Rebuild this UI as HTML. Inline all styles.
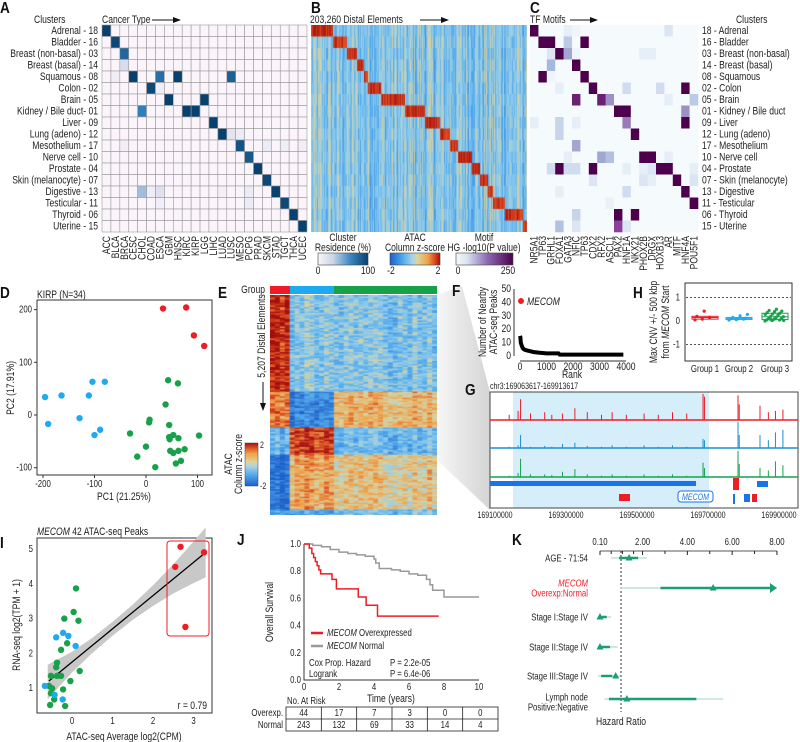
<!DOCTYPE html>
<html><head><meta charset="utf-8">
<style>
body{margin:0;background:#fff;}
#wrap{position:relative;width:800px;height:742px;overflow:hidden;font-family:"Liberation Sans",sans-serif;}
canvas{position:absolute;}
svg{position:absolute;left:0;top:0;}
text{font-family:"Liberation Sans",sans-serif;fill:#222;}
.pl{font-weight:bold;font-size:16px;fill:#111;}
.s9{font-size:10px;}
.s10{font-size:11px;}
.s8{font-size:9px;}
</style></head>
<body>
<div id="wrap">
<canvas id="cB" width="216" height="207" style="left:311px;top:25px"></canvas>
<canvas id="cE" width="167" height="220" style="left:270px;top:295px"></canvas>
<svg id="svg" width="800" height="742" xmlns="http://www.w3.org/2000/svg">
<defs>
<linearGradient id="gRes" x1="0" x2="1"><stop offset="0" stop-color="#fbf5fb"/><stop offset="0.3" stop-color="#c9d6e8"/><stop offset="0.65" stop-color="#3a87c0"/><stop offset="1" stop-color="#08406e"/></linearGradient>
<linearGradient id="gAtac" x1="0" x2="1"><stop offset="0" stop-color="#1c5fc9"/><stop offset="0.25" stop-color="#4fa8ec"/><stop offset="0.45" stop-color="#a9d2e6"/><stop offset="0.55" stop-color="#dcd4a0"/><stop offset="0.75" stop-color="#f0a54a"/><stop offset="0.9" stop-color="#d9481f"/><stop offset="1" stop-color="#a50f0f"/></linearGradient>
<linearGradient id="gAtacV" x1="0" x2="0" y1="1" y2="0"><stop offset="0" stop-color="#1c5fc9"/><stop offset="0.25" stop-color="#4fa8ec"/><stop offset="0.45" stop-color="#a9d2e6"/><stop offset="0.55" stop-color="#dcd4a0"/><stop offset="0.75" stop-color="#f0a54a"/><stop offset="0.9" stop-color="#d9481f"/><stop offset="1" stop-color="#a50f0f"/></linearGradient>
<linearGradient id="gMotif" x1="0" x2="1"><stop offset="0" stop-color="#f5fafd"/><stop offset="0.2" stop-color="#d6e3f1"/><stop offset="0.55" stop-color="#8c6bb1"/><stop offset="1" stop-color="#4d004b"/></linearGradient>
<linearGradient id="gWedge" x1="0" x2="1"><stop offset="0" stop-color="#f6f6f6"/><stop offset="1" stop-color="#d0d0d0"/></linearGradient>
<marker id="arr" markerWidth="8" markerHeight="6" refX="7" refY="3" orient="auto"><path d="M0,0 L8,3 L0,6 z" fill="#111"/></marker>
</defs>

<polygon points="437,295 462,286 490,392 490,510 437,460" fill="url(#gWedge)" opacity="0.9"/>

<!-- Panel letters -->
<text class="pl" x="0" y="13">A</text>
<text class="pl" x="311" y="13">B</text>
<text class="pl" x="530" y="13">C</text>
<text class="pl" x="0" y="298">D</text>
<text class="pl" x="218" y="298">E</text>
<text class="pl" x="452" y="296">F</text>
<text class="pl" x="633" y="298">H</text>
<text class="pl" x="465" y="395">G</text>
<text class="pl" x="0" y="548">I</text>
<text class="pl" x="237" y="545">J</text>
<text class="pl" x="512" y="545">K</text>

<!-- headers -->
<text class="s10" x="34" y="23">Clusters</text>
<text class="s10" x="102" y="23">Cancer Type</text>
<line x1="152" y1="20" x2="180" y2="20" stroke="#111" stroke-width="1" marker-end="url(#arr)"/>
<text class="s10" x="310" y="23">203,260 Distal Elements</text>
<line x1="420" y1="20" x2="448" y2="20" stroke="#111" stroke-width="1" marker-end="url(#arr)"/>
<text class="s10" x="530" y="23">TF Motifs</text>
<line x1="570" y1="20" x2="597" y2="20" stroke="#111" stroke-width="1" marker-end="url(#arr)"/>
<text class="s10" x="736" y="23">Clusters</text>

<g id="gA"></g>
<g id="gC"></g>
<g id="gLabels"></g>

<!-- legends under B -->
<g>
<text class="s10" x="343" y="241" text-anchor="middle">Cluster</text>
<text class="s10" x="343" y="251" text-anchor="middle">Residence (%)</text>
<rect x="318" y="253" width="50" height="12" fill="url(#gRes)" stroke="#444" stroke-width="0.6"/>
<text class="s10" x="318" y="274" text-anchor="middle">0</text>
<text class="s10" x="368" y="274" text-anchor="middle">100</text>
</g>
<g>
<text class="s10" x="415" y="241" text-anchor="middle">ATAC</text>
<text class="s10" x="415" y="251" text-anchor="middle">Column z-score</text>
<rect x="390" y="253" width="50" height="12" fill="url(#gAtac)" stroke="#444" stroke-width="0.6"/>
<text class="s10" x="391" y="274" text-anchor="middle">-2</text>
<text class="s10" x="438" y="274" text-anchor="middle">2</text>
</g>
<g>
<text class="s10" x="484" y="241" text-anchor="middle">Motif</text>
<text class="s10" x="484" y="251" text-anchor="middle">HG -log10(P value)</text>
<rect x="456" y="253" width="57" height="12" fill="url(#gMotif)" stroke="#444" stroke-width="0.6"/>
<text class="s10" x="458" y="274" text-anchor="middle">0</text>
<text class="s10" x="508" y="274" text-anchor="middle">250</text>
</g>

<!-- D -->
<g id="gD">
<text class="s10" x="37" y="298">KIRP (N=34)</text>
<rect x="37" y="300" width="175" height="175" fill="none" stroke="#333" stroke-width="1"/>
<text class="s10" x="124" y="500" text-anchor="middle">PC1 (21.25%)</text>
<text class="s10" transform="translate(14,388) rotate(-90)" text-anchor="middle">PC2 (17.91%)</text>
</g>

<!-- E annotations -->
<g>
<text class="s10" x="265" y="293" text-anchor="end">Group</text>
<rect x="270" y="286" width="20" height="8" fill="#ee1c25"/>
<rect x="290" y="286" width="44" height="8" fill="#1eaaf1"/>
<rect x="334" y="286" width="103" height="8" fill="#17a24a"/>
<text class="s10" transform="translate(265,336) rotate(-90)" text-anchor="middle">5,207 Distal Elements</text>
<line x1="263" y1="382" x2="263" y2="410" stroke="#111" stroke-width="1" marker-end="url(#arr)"/>
<rect x="245" y="443" width="13" height="43" fill="url(#gAtacV)" stroke="#444" stroke-width="0.5"/>
<text class="s8" x="260" y="448">2</text>
<text class="s8" x="260" y="489">-2</text>
<text class="s10" transform="translate(232,464) rotate(-90)" text-anchor="middle">ATAC</text>
<text class="s10" transform="translate(242,464) rotate(-90)" text-anchor="middle">Column z-score</text>
</g>

<!-- F -->
<g id="gF">
<text class="s10" transform="translate(486,322) rotate(-90)" text-anchor="middle">Number of Nearby</text>
<text class="s10" transform="translate(497,322) rotate(-90)" text-anchor="middle">ATAC-seq Peaks</text>
<text class="s10" x="572" y="378" text-anchor="middle">Rank</text>
<text x="527" y="305" class="s10" style="font-style:italic">MECOM</text>
</g>

<!-- H -->
<g id="gH">
<rect x="685" y="283" width="107" height="78" fill="none" stroke="#333" stroke-width="1"/>
<text class="s10" transform="translate(657,322) rotate(-90)" text-anchor="middle">Max CNV +/- 500 kbp</text>
<text class="s10" transform="translate(669,322) rotate(-90)" text-anchor="middle">from <tspan font-style="italic">MECOM</tspan> Start</text>
</g>

<!-- G -->
<g id="gG">
<text class="s8" x="490" y="389">chr3:169063617-169913617</text>
<rect x="513" y="392" width="196" height="116" fill="#d5eef9"/>
</g>

<!-- I -->
<g id="gI">
<text class="s10" x="37" y="535"><tspan font-style="italic">MECOM</tspan> 42 ATAC-seq Peaks</text>
<text class="s10" x="124" y="740" text-anchor="middle">ATAC-seq Average log2(CPM)</text>
<text class="s10" transform="translate(20,625) rotate(-90)" text-anchor="middle">RNA-seq log2(TPM + 1)</text>
</g>

<!-- J -->
<g id="gJ">
<text class="s10" transform="translate(273,612) rotate(-90)" text-anchor="middle">Overall Survival</text>
<text class="s10" x="391" y="702" text-anchor="middle">Time (years)</text>
<line x1="311" y1="633" x2="323" y2="633" stroke="#ee1c25" stroke-width="2.5"/>
<text class="s9" x="327" y="636"><tspan font-style="italic">MECOM</tspan> Overexpressed</text>
<line x1="311" y1="646" x2="323" y2="646" stroke="#999" stroke-width="2.5"/>
<text class="s9" x="327" y="649"><tspan font-style="italic">MECOM</tspan> Normal</text>
<text class="s9" x="309" y="666">Cox Prop. Hazard</text>
<text class="s9" x="390" y="666">P = 2.2e-05</text>
<text class="s9" x="309" y="677">Logrank</text>
<text class="s9" x="390" y="677">P = 6.4e-06</text>
<text class="s9" x="287" y="704">No. At Risk</text>
<rect x="286" y="707" width="212" height="24" fill="none" stroke="#222" stroke-width="0.8"/>
<line x1="286" y1="719" x2="498" y2="719" stroke="#222" stroke-width="0.8"/>
<text class="s9" x="283" y="716" text-anchor="end">Overexp.</text>
<text class="s9" x="283" y="728" text-anchor="end">Normal</text>
</g>

<!-- K -->
<g id="gK">
<line x1="600" y1="551" x2="777" y2="551" stroke="#222" stroke-width="0.8"/>
<line x1="621" y1="551" x2="621" y2="712" stroke="#222" stroke-width="0.9" stroke-dasharray="2,2"/>
<text class="s10" x="621" y="725" text-anchor="middle">Hazard Ratio</text>
</g>
</svg>
</div>
<script>
// ---------- data ----------
const cancerTypes=["ACC","BLCA","BRCA","CESC","CHOL","COAD","ESCA","GBM","HNSC","KIRC","KIRP","LGG","LIHC","LUAD","LUSC","MESO","PCPG","PRAD","SKCM","STAD","TGCT","THCA","UCEC"];
const clustersLeft=["Adrenal - 18","Bladder - 16","Breast (non-basal) - 03","Breast (basal) - 14","Squamous - 08","Colon - 02","Brain - 05","Kidney / Bile duct- 01","Liver - 09","Lung (adeno) - 12","Mesothelium - 17","Nerve cell - 10","Prostate - 04","Skin (melanocyte) - 07","Digestive - 13","Testicular - 11","Thyroid - 06","Uterine - 15"];
const clustersRight=["18 - Adrenal","16 - Bladder","03 - Breast (non-basal)","14 - Breast (basal)","08 - Squamous","02 - Colon","05 - Brain","01 - Kidney / Bile duct","09 - Liver","12 - Lung (adeno)","17 - Mesothelium","10 - Nerve cell","04 - Prostate","07 - Skin (melanocyte)","13 - Digestive","11 - Testicular","06 - Thyroid","15 - Uterine"];
const residence=[[0,0,100],[1,1,95],[2,2,75],[3,2,15],[4,1,5],[4,3,100],[4,6,70],[4,8,100],[4,14,80],[5,5,95],[5,6,5],[6,7,100],[6,11,100],[7,4,60],[7,9,100],[7,10,100],[8,12,100],[9,13,100],[9,14,10],[9,15,6],[10,2,4],[10,15,88],[10,18,6],[10,20,5],[10,22,4],[11,16,85],[12,17,100],[13,18,95],[14,4,30],[14,5,5],[14,6,12],[14,13,3],[14,16,6],[14,19,100],[15,6,4],[15,16,6],[15,20,95],[16,21,100],[17,22,100]];
const motifs=["NR5A1","TP63","GRHL1","FOXA1","GATA3","NFIC","TP63","CDX2","RFX2","ASCL1","PAX2","HNF1A","NKX21","PHOX2B","DRGX","HOXB13","AR","MITF","HNF4A","POU5F1"];
const motifEnr=[[0,0,250],[0,4,25],[0,5,12],[0,16,38],[1,1,250],[1,2,250],[1,4,75],[1,6,250],[2,2,38],[2,3,250],[2,4,112],[2,5,12],[2,13,25],[2,14,25],[3,2,100],[3,5,250],[4,1,250],[4,2,12],[4,6,250],[5,3,25],[5,7,250],[5,11,50],[5,15,50],[5,18,250],[6,5,212],[6,8,212],[6,9,125],[6,16,25],[6,19,75],[7,10,250],[7,11,250],[7,18,125],[8,0,25],[8,3,62],[8,5,25],[8,11,138],[8,18,250],[9,3,62],[9,12,250],[10,5,112],[11,4,25],[11,8,112],[11,9,88],[11,13,250],[11,14,250],[11,16,25],[12,2,50],[12,3,250],[12,4,50],[12,5,50],[12,7,250],[12,11,25],[12,13,25],[12,14,38],[12,15,250],[12,16,250],[12,19,25],[13,7,38],[13,13,38],[13,14,25],[13,17,250],[13,19,38],[14,3,25],[14,11,50],[14,18,250],[15,9,20],[15,19,250],[16,5,62],[16,10,250],[16,12,250],[17,3,88],[17,5,38],[17,10,175],[17,11,38]];
const bBlockShare=[22,14,10,7,4,13,24,20,15,10,8,14,8,8,5,12,18,4];
const eBlockRows=[2290,850,640,1300,127];
const eGroupSamples=[4,9,21];
const eBlockMeans=[[1.8,-0.45,-0.45],[1.2,-1.5,0.7],[-0.8,1.6,-0.7],[-1.8,0.8,0.45],[-1.2,-1.0,-0.6]];
const dRedPC1=[33,78,93,113], dRedPC2=[202,204,151,131];
const dBluePC1=[-196,-164,-104,-80,-111,-190,-129,-89,-100], dBluePC2=[34,37,63,63,37,-17,-6,-28,-38];
const dGreenPC1=[43,62,38,7,6,45,-31,0,-17,18,45,53,63,46,47,53,63,75,68,58,103];
const dGreenPC2=[66,60,20,-9,-14,-19,-35,-60,-79,-99,-42,-38,-44,-46,-68,-72,-68,-65,-87,-92,-39];
const dXTicks=[-200,-100,0,100], dYTicks=[-100,0,100,200];
const fRanks=[1,15,30,60,100,150,200,300,400,500,700,1000,1450,1500,2000,3000,3900];
const fPeaks=[15,14,10,8,6,5,4.5,4,3.5,3,2.5,2,2,1,1,1,1];
const fMecom=[0,41];
const fXTicks=[0,1000,2000,3000,4000], fYTicks=[0,10,20,30,40,50];
const hGroups=["Group 1","Group 2","Group 3"];
const hVals=[[0.05,0.08,0.15,0.2,0.42],[0.04,0.06,0.08,0.1,0.1,0.12,0.15,0.22,0.28],[0,0.02,0.04,0.05,0.08,0.1,0.12,0.15,0.18,0.2,0.25,0.28,0.3,0.33,0.36,0.4,0.42,0.45,0.5,0.02,0.06]];
const hYTicks=[-1,0,1];
const gTicks=[169100000,169300000,169500000,169700000,169900000];
const gPeakPos=[169140000,169165000,169172000,169200000,169240000,169260000,169290000,169325000,169360000,169400000,169430000,169470000,169520000,169560000,169600000,169640000,169686000,169690000,169784500,169788000,169846500,169870000,169890000,169911000];
const gRed=[0.2,0.35,0.8,0.25,0.3,0.2,0.25,0.45,0.3,0.2,0.3,0.2,0.25,0.2,0.3,0.25,1.0,0.9,0.95,0.6,0.55,0.3,0.35,0.4];
const gBlue=[0.05,0.1,0.5,0.05,0.08,0.05,0.15,0.2,0.08,0.05,0.1,0.05,0.1,0.05,0.1,0.05,0.35,0.3,1.0,0.5,0.5,0.3,0.6,0.7];
const gGreen=[0.05,0.15,0.7,0.1,0.1,0.08,0.2,0.3,0.1,0.05,0.1,0.05,0.1,0.05,0.1,0.05,0.55,0.35,1.0,0.5,0.35,0.25,0.6,0.45];
const iRedX=[2.68,3.26,2.55,2.8], iRedY=[5.07,4.91,4.49,2.76];
const iBlueX=[-0.39,-0.22,-0.09,0.09,-0.67,-0.23,-0.43], iBlueY=[2.46,2.59,2.5,2.21,1.06,0.67,0.8];
const iGreenX=[0.1,0.04,-0.19,0.16,-0.27,-0.12,-0.37,-0.39,-0.52,-0.37,-0.27,0.19,-0.04,-0.57,-0.49,-0.22,-0.52,-0.54,-0.44,-0.17];
const iGreenY=[3.87,3.19,3.0,2.94,2.1,2.29,1.73,1.6,1.35,1.35,1.35,1.49,1.2,1.06,0.99,0.96,0.85,0.51,0.67,0.48];
const iFit=[-0.57,1.2,3.26,4.87];
const iBandX=[-0.6,0,0.5,1,1.5,2,2.5,3,3.3], iBandHalf=[0.5,0.3,0.22,0.2,0.22,0.3,0.42,0.6,0.72];
const iXTicks=[0,1,2,3], iYTicks=[1,2,3,4,5];
const jRedT=[0,0.3,0.45,0.55,0.65,0.75,0.85,0.95,1.6,1.85,3.1,3.55,4.2,7.7];
const jRedS=[1,0.97,0.93,0.9,0.87,0.84,0.81,0.78,0.74,0.67,0.61,0.55,0.47,0.47];
const jGrayT=[0,0.5,1,1.5,2,2.5,3,3.5,4,4.1,4.3,5,5.5,6,6.5,7,7.2,7.35,8,10];
const jGrayS=[1,0.99,0.98,0.96,0.94,0.93,0.92,0.91,0.89,0.86,0.82,0.81,0.8,0.78,0.77,0.74,0.7,0.66,0.61,0.61];
const jXTicks=[0,2,4,6,8,10], jYTicks=[0,0.2,0.4,0.6,0.8,1.0];
const jRiskOver=[44,17,7,3,0,0], jRiskNorm=[243,132,69,33,14,4];
const kLabels=[["AGE - 71:54"],["MECOM","Overexp:Normal"],["Stage I:Stage IV"],["Stage II:Stage IV"],["Stage III:Stage IV"],["Lymph node","Positive:Negative"]];
const kHR=[1.4,5.15,0.1,0.1,0.8,1.3];
const kLo=[0.6,1.0,0.0,0.0,0.0,0.3];
const kHi=[2.2,8.0,0.6,0.9,1.0,5.6];
const kLoT=[0.95,2.8,0.05,0.05,0.15,0.5];
const kHiT=[1.8,8.0,0.4,0.55,0.65,4.4];
const kArrow=[false,true,false,false,false,false];
const kTicks=[0.1,2,4,6,8], kTickLab=["0.10","2.00","4.00","6.00","8.00"], kMinor=[0.6,1.1,1.6,3,5,7];

// ---------- helpers ----------
const NS="http://www.w3.org/2000/svg";
function el(tag,parent){const e=document.createElementNS(NS,tag);parent.appendChild(e);return e;}
function hex(c){return [parseInt(c.slice(1,3),16),parseInt(c.slice(3,5),16),parseInt(c.slice(5,7),16)];}
function ramp(stops){return function(t){t=Math.max(0,Math.min(1,t));for(let i=1;i<stops.length;i++){if(t<=stops[i][0]){const a=stops[i-1],b=stops[i];const f=(t-a[0])/(b[0]-a[0]);const ca=hex(a[1]),cb=hex(b[1]);return "rgb("+ca.map((v,k)=>Math.round(v+(cb[k]-v)*f)).join(",")+")";}}return stops[stops.length-1][1];};}
const resCol=ramp([[0,"#fbf5fb"],[0.15,"#d8dcec"],[0.6,"#2f7fbc"],[1,"#08406e"]]);
const motCol=ramp([[0,"#f5fafd"],[0.1,"#e6eff8"],[0.4,"#a8b8dc"],[0.7,"#8b3f9c"],[1,"#4d004b"]]);
const zCol=ramp([[0,"#1c5fc9"],[0.25,"#4fa8ec"],[0.42,"#8fcbec"],[0.55,"#d4d3a6"],[0.72,"#f0a54a"],[0.88,"#d9481f"],[1,"#a50f0f"]]);
let seed=12345;function rnd(){seed=(seed*1103515245+12345)%2147483648;return seed/2147483648;} // texture only
function txt(parent,x,y,s,cls,anchor){const t=el("text",parent);t.setAttribute("x",x);t.setAttribute("y",y);if(cls)t.setAttribute("class",cls);if(anchor)t.setAttribute("text-anchor",anchor);t.textContent=s;return t;}

// ---------- A ----------
const gA=document.getElementById("gA"), gL=document.getElementById("gLabels");
const ax0=102,ay0=25,acw=205/23,ach=207/18;
for(let r=0;r<18;r++)for(let c=0;c<23;c++){const q=el("rect",gA);


q.setAttribute("x",ax0+c*acw);q.setAttribute("y",ay0+r*ach);q.setAttribute("width",acw);q.setAttribute("height",ach);q.setAttribute("fill",resCol(0));q.setAttribute("stroke","#9a9a9a");q.setAttribute("stroke-width","0.6");q.id="a"+r+"_"+c;}
residence.forEach(([r,c,v])=>{document.getElementById("a"+r+"_"+c).setAttribute("fill",resCol(v/100));});
clustersLeft.forEach((s,i)=>{const t=txt(gL,98,ay0+(i+0.5)*ach+3.5,s,"s10","end");

});
cancerTypes.forEach((s,j)=>{const t=txt(gL,0,0,s,"s10","end");


t.setAttribute("transform","translate("+(ax0+(j+0.5)*acw+3.5)+",236) rotate(-90)");});

// ---------- C ----------
const gC=document.getElementById("gC");const cx0=530,ccw=168/20;
for(let r=0;r<18;r++)for(let c=0;c<20;c++){const q=el("rect",gC);


q.setAttribute("x",cx0+c*ccw);q.setAttribute("y",ay0+r*ach);q.setAttribute("width",ccw+0.3);q.setAttribute("height",ach+0.3);q.setAttribute("fill",motCol(0));q.id="c"+r+"_"+c;}
motifEnr.forEach(([r,c,v])=>{document.getElementById("c"+r+"_"+c).setAttribute("fill",motCol(v/250));});
clustersRight.forEach((s,i)=>{const t=txt(gL,702,ay0+(i+0.5)*ach+3.5,s,"s10");

});
motifs.forEach((s,j)=>{const t=txt(gL,0,0,s,"s10","end");


t.setAttribute("transform","translate("+(cx0+(j+0.5)*ccw+3.5)+",236) rotate(-90)");});

// ---------- B (canvas) ----------
(function(){const cv=document.getElementById("cB"),ctx=cv.getContext("2d");const W=216,H=207,tot=bBlockShare.reduce((a,b)=>a+b,0);
const starts=[];let acc=0;bBlockShare.forEach(v=>{starts.push(acc/tot*W);acc+=v;});starts.push(W);
const colOff=[];for(let x=0;x<W;x++)colOff.push((rnd()-0.5)*1.4);
for(let r=0;r<18;r++){const y0=r*H/18,y1=(r+1)*H/18;for(let x=0;x<W;x++){let z=-0.45+colOff[x]*0.8+(rnd()-0.5)*0.6;if(x>=starts[r]&&x<starts[r+1])z=1.7+(rnd()-0.5)*0.5;ctx.fillStyle=zCol((z+2)/4);ctx.fillRect(x,y0,1,y1-y0+1);}}})();
// ---------- E (canvas) ----------
(function(){const cv=document.getElementById("cE"),ctx=cv.getContext("2d");const W=167,H=220;const nS=eGroupSamples.reduce((a,b)=>a+b,0),nR=eBlockRows.reduce((a,b)=>a+b,0);
const sw=W/nS;const sOff=[];for(let s=0;s<nS;s++)sOff.push((rnd()-0.5)*0.8);
let y=0;eBlockRows.forEach((rows,b)=>{const h=rows/nR*H;for(let yy=y;yy<y+h;yy+=1.5){let s=0;eGroupSamples.forEach((n,g)=>{for(let k=0;k<n;k++,s++){const z=eBlockMeans[b][g]+sOff[s]*0.6+(rnd()-0.5)*1.1;ctx.fillStyle=zCol((z+2)/4);ctx.fillRect(s*sw,yy,sw+0.5,2);}});}y+=h;});})();

// ---------- D ----------
(function(){const g=document.getElementById("gD");const xD=v=>146+v*0.515,yD=v=>415-v*0.527;
dXTicks.forEach(v=>{const l=el("line",g);


l.setAttribute("x1",xD(v));l.setAttribute("x2",xD(v));l.setAttribute("y1",475);l.setAttribute("y2",478);l.setAttribute("stroke","#333");
const t=txt(g,xD(v),487,String(v),"s9","middle");

});
dYTicks.forEach(v=>{const l=el("line",g);


l.setAttribute("x1",34);l.setAttribute("x2",37);l.setAttribute("y1",yD(v));l.setAttribute("y2",yD(v));l.setAttribute("stroke","#333");
const t=txt(g,32,yD(v)+3,String(v),"s9","end");

});
[[dRedPC1,dRedPC2,"#ee1c25"],[dBluePC1,dBluePC2,"#1eaaf1"],[dGreenPC1,dGreenPC2,"#17a24a"]].forEach(([X,Y,c])=>{X.forEach((v,i)=>{const p=el("circle",g);


p.setAttribute("cx",xD(v));p.setAttribute("cy",yD(Y[i]));p.setAttribute("r",3.2);p.setAttribute("fill",c);});});})();

// ---------- F ----------
(function(){const g=document.getElementById("gF");const xF=r=>520+r*106/4000,yF=v=>356-v*67/50;
const ax=el("path",g);


ax.setAttribute("d","M514,"+yF(50)+" V"+yF(0)+" M"+xF(0)+",361 H"+xF(4000));ax.setAttribute("stroke","#333");ax.setAttribute("fill","none");
fYTicks.forEach(v=>{const t=txt(g,511,yF(v)+3,String(v),"s10","end");

});
fXTicks.forEach(v=>{const t=txt(g,xF(v),370,String(v),"s10","middle");

});
const p=el("path",g);


let d="M"+xF(fRanks[0])+","+yF(fPeaks[0]);fRanks.forEach((r,i)=>{d+=" L"+xF(r)+","+yF(fPeaks[i]);});p.setAttribute("d",d);p.setAttribute("stroke","#000");p.setAttribute("stroke-width","4");p.setAttribute("fill","none");
const m=el("circle",g);


m.setAttribute("cx",xF(fMecom[0])+1);m.setAttribute("cy",yF(fMecom[1]));m.setAttribute("r",3);m.setAttribute("fill","#ee1c25");})();

// ---------- H ----------
(function(){const g=document.getElementById("gH");const yH=v=>321-v*23.5;const gx=[705,739,775],cols=["#ee1c25","#1eaaf1","#17a24a"];
hYTicks.forEach(v=>{const t=txt(g,680,yH(v)+3,String(v),"s9","end");


if(v!==0){const l=el("line",g);


l.setAttribute("x1",686);l.setAttribute("x2",791);l.setAttribute("y1",yH(v));l.setAttribute("y2",yH(v));l.setAttribute("stroke","#555");l.setAttribute("stroke-dasharray","2,2");}});
hVals.forEach((vals,i)=>{const s=vals.slice().sort((a,b)=>a-b);const q=f=>{const p=(s.length-1)*f,lo=Math.floor(p);return s[lo]+(s[Math.min(lo+1,s.length-1)]-s[lo])*(p-lo);};
const b=el("rect",g);


b.setAttribute("x",gx[i]-13);b.setAttribute("width",26);b.setAttribute("y",yH(q(0.75)));b.setAttribute("height",Math.max(2,yH(q(0.25))-yH(q(0.75))));b.setAttribute("fill","none");b.setAttribute("stroke",cols[i]);
const md=el("line",g);


md.setAttribute("x1",gx[i]-13);md.setAttribute("x2",gx[i]+13);md.setAttribute("y1",yH(q(0.5)));md.setAttribute("y2",yH(q(0.5)));md.setAttribute("stroke",cols[i]);
vals.forEach((v,k)=>{const c=el("circle",g);


c.setAttribute("cx",gx[i]-10+(k*7.3%20));c.setAttribute("cy",yH(v));c.setAttribute("r",1.6);c.setAttribute("fill",cols[i]);});
const t=txt(g,gx[i],372,hGroups[i],"s9","middle");

});})();

// ---------- G ----------
(function(){const g=document.getElementById("gG");const xG=bp=>495+(bp-169100000)/200000*71;
const fr=el("rect",g);


fr.setAttribute("x",490);fr.setAttribute("y",392);fr.setAttribute("width",308);fr.setAttribute("height",116);fr.setAttribute("fill","none");fr.setAttribute("stroke","#444");
const tracks=[[gRed,420,"#ee1c25"],[gBlue,448,"#1d8fd0"],[gGreen,477,"#17a24a"]];
tracks.forEach(([vals,base,c])=>{const bl=el("line",g);


bl.setAttribute("x1",490);bl.setAttribute("x2",798);bl.setAttribute("y1",base);bl.setAttribute("y2",base);bl.setAttribute("stroke",c);bl.setAttribute("stroke-width",1.5);
gPeakPos.forEach((bp,i)=>{const l=el("line",g);


l.setAttribute("x1",xG(bp));l.setAttribute("x2",xG(bp));l.setAttribute("y1",base);l.setAttribute("y2",base-vals[i]*26);l.setAttribute("stroke",c);l.setAttribute("stroke-width",1);});});
const genes=[[490,481,206,5,"#1a73e8"],[733,478,6,12,"#ee1c25"],[757,481,11,6,"#1a73e8"],[619,494,11,7,"#ee1c25"],[733,494,2,10,"#1a73e8"],[744,494,6,8,"#1a73e8"],[752,494,5,8,"#ee1c25"]];
genes.forEach(([x,y,w,h,c])=>{const r=el("rect",g);


r.setAttribute("x",x);r.setAttribute("y",y);r.setAttribute("width",w);r.setAttribute("height",h);r.setAttribute("fill",c);});
const mb=el("rect",g);


mb.setAttribute("x",678);mb.setAttribute("y",491);mb.setAttribute("width",35);mb.setAttribute("height",11);mb.setAttribute("rx",3);mb.setAttribute("fill","#fff");mb.setAttribute("stroke","#1a73e8");
const mt=txt(g,695.5,500,"MECOM","s8","middle");


mt.setAttribute("style","font-style:italic;fill:#1a73e8");
gTicks.forEach(bp=>{const t=txt(g,xG(bp),518,String(bp),"s8","middle");

});})();

// ---------- I ----------
(function(){const g=document.getElementById("gI");const xI=v=>72+v*40.5,yI=v=>688-(v-1)*34.7;
const fr=el("rect",g);


fr.setAttribute("x",37);fr.setAttribute("y",538);fr.setAttribute("width",175);fr.setAttribute("height",175);fr.setAttribute("fill","none");fr.setAttribute("stroke","#333");
const slope=(iFit[3]-iFit[1])/(iFit[2]-iFit[0]),fit=x=>iFit[1]+(x-iFit[0])*slope;
let up="",lo="";iBandX.forEach((x,i)=>{up+=(i?" L":"M")+xI(x)+","+yI(fit(x)+iBandHalf[i]);});for(let i=iBandX.length-1;i>=0;i--)lo+=" L"+xI(iBandX[i])+","+yI(fit(iBandX[i])-iBandHalf[i]);
const band=el("path",g);


band.setAttribute("d",up+lo+" Z");band.setAttribute("fill","#c8c8c8");
const ln=el("line",g);


ln.setAttribute("x1",xI(iFit[0]));ln.setAttribute("y1",yI(iFit[1]));ln.setAttribute("x2",xI(iFit[2]));ln.setAttribute("y2",yI(iFit[3]));ln.setAttribute("stroke","#000");ln.setAttribute("stroke-width",1.3);
const hl=el("rect",g);


hl.setAttribute("x",167);hl.setAttribute("y",541);hl.setAttribute("width",42);hl.setAttribute("height",95);hl.setAttribute("rx",3);hl.setAttribute("fill","none");hl.setAttribute("stroke","#ee1c25");
[[iGreenX,iGreenY,"#17a24a"],[iBlueX,iBlueY,"#1eaaf1"],[iRedX,iRedY,"#ee1c25"]].forEach(([X,Y,c])=>X.forEach((v,i)=>{const p=el("circle",g);


p.setAttribute("cx",xI(v));p.setAttribute("cy",yI(Y[i]));p.setAttribute("r",3.2);p.setAttribute("fill",c);}));
iXTicks.forEach(v=>{const t=txt(g,xI(v),724,String(v),"s9","middle");

});
iYTicks.forEach(v=>{const t=txt(g,33,yI(v)+3,String(v),"s9","end");

});
const r=txt(g,207,709,"r = 0.79","s10","end");

})();

// ---------- J ----------
(function(){const g=document.getElementById("gJ");const xJ=t=>304+t*17.5,yJ=s=>680-s*136;
const ax=el("path",g);


ax.setAttribute("d","M304,544 V680 H479");ax.setAttribute("stroke","#333");ax.setAttribute("fill","none");
jXTicks.forEach(v=>{const t=txt(g,xJ(v),690,String(v),"s9","middle");

});
jYTicks.forEach(v=>{const t=txt(g,301,yJ(v)+3,v.toFixed(1),"s9","end");

});
function step(T,S){let d="M"+xJ(T[0])+","+yJ(S[0]);for(let i=1;i<T.length;i++){d+=" H"+xJ(T[i])+" V"+yJ(S[i]);}return d;}
const gp=el("path",g);


gp.setAttribute("d",step(jGrayT,jGrayS));gp.setAttribute("stroke","#999");gp.setAttribute("stroke-width",1.5);gp.setAttribute("fill","none");
const rp=el("path",g);


rp.setAttribute("d",step(jRedT,jRedS));rp.setAttribute("stroke","#ee1c25");rp.setAttribute("stroke-width",1.5);rp.setAttribute("fill","none");
const cw=212/6;for(let i=0;i<6;i++){if(i>0){const l=el("line",g);


l.setAttribute("x1",286+i*cw);l.setAttribute("x2",286+i*cw);l.setAttribute("y1",707);l.setAttribute("y2",731);l.setAttribute("stroke","#222");l.setAttribute("stroke-width",0.8);}
const a=txt(g,286+(i+0.5)*cw,716,String(jRiskOver[i]),"s9","middle");


const b=txt(g,286+(i+0.5)*cw,728,String(jRiskNorm[i]),"s9","middle");

}})();

// ---------- K ----------
(function(){const g=document.getElementById("gK");const xK=h=>600+(h-0.1)*22.4;const rowY=[558,588,617,647,676,699];const lineOff=[[3.5],[-1.5,8.5],[3.5],[3.5],[3.5],[1.5,11.5]];
kTicks.forEach((v,i)=>{const l=el("line",g);


l.setAttribute("x1",xK(v));l.setAttribute("x2",xK(v));l.setAttribute("y1",551);l.setAttribute("y2",555);l.setAttribute("stroke","#222");
const t=txt(g,xK(v),545,kTickLab[i],"s9","middle");

});
kMinor.forEach(v=>{const l=el("line",g);


l.setAttribute("x1",xK(v));l.setAttribute("x2",xK(v));l.setAttribute("y1",551);l.setAttribute("y2",554);l.setAttribute("stroke","#222");});
kLabels.forEach((lab,i)=>{const y=rowY[i];
lab.forEach((s,k)=>{const t=txt(g,588,y+lineOff[i][k],s,"s9","end");


if(i===1){t.setAttribute("style","fill:#ee1c25;"+(k===0?"font-style:italic":""));}});
const thin=el("line",g);


thin.setAttribute("x1",xK(kLo[i]));thin.setAttribute("x2",xK(kHi[i]));thin.setAttribute("y1",y);thin.setAttribute("y2",y);thin.setAttribute("stroke","#bfe3d6");thin.setAttribute("stroke-width",1.5);
const thick=el("line",g);


thick.setAttribute("x1",xK(kLoT[i]));thick.setAttribute("x2",xK(kHiT[i])-(kArrow[i]?4:0));thick.setAttribute("y1",y);thick.setAttribute("y2",y);thick.setAttribute("stroke","#1a9e72");thick.setAttribute("stroke-width",2.5);
if(kArrow[i]){const a=el("polygon",g);


const xe=xK(kHi[i]);a.setAttribute("points",(xe-7)+","+(y-5)+" "+xe+","+y+" "+(xe-7)+","+(y+5));a.setAttribute("fill","#1a9e72");}
const m=el("polygon",g);


const xm=xK(kHR[i]);m.setAttribute("points",(xm-3.5)+","+(y+2.5)+" "+xm+","+(y-4)+" "+(xm+3.5)+","+(y+2.5));m.setAttribute("fill","#1a9e72");});})();

// ---------- condense all text horizontally (reference uses a condensed face) ----------
document.querySelectorAll("#svg text").forEach(t=>{const k=t.classList.contains("pl")?0.85:0.78;const tr=t.getAttribute("transform");
if(tr){t.setAttribute("transform",tr+" scale("+k+",1)");}
else{const x=+t.getAttribute("x"),y=+t.getAttribute("y");t.setAttribute("transform","translate("+x+","+y+") scale("+k+",1) translate("+(-x)+","+(-y)+")");}});
</script>
</body></html>
